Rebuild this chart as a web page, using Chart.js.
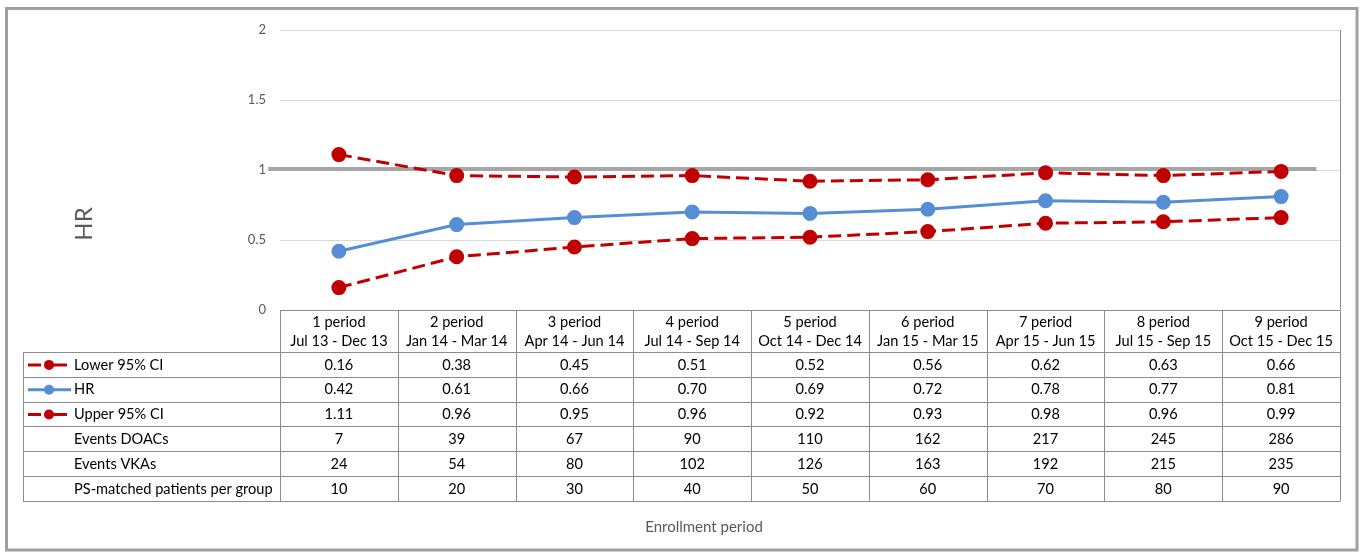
<!DOCTYPE html>
<html>
<head>
<meta charset="utf-8">
<title>HR by enrollment period</title>
<script src="https://cdn.jsdelivr.net/npm/chart.js@4/dist/chart.umd.min.js"></script>
<style>
    html, body { margin: 0; padding: 0; background: #fff; }
    #wrap { position: relative; width: 1361px; height: 552px; }
</style>
</head>
<body>
<div id="wrap"><canvas id="hrChart" width="1361" height="552"></canvas></div>
<script>
// ---- Data ----
const periods = [
    ['1 period', 'Jul 13 - Dec 13'],
    ['2 period', 'Jan 14 - Mar 14'],
    ['3 period', 'Apr 14 - Jun 14'],
    ['4 period', 'Jul 14 - Sep 14'],
    ['5 period', 'Oct 14 - Dec 14'],
    ['6 period', 'Jan 15 - Mar 15'],
    ['7 period', 'Apr 15 - Jun 15'],
    ['8 period', 'Jul 15 - Sep 15'],
    ['9 period', 'Oct 15 - Dec 15']
];
const lowerCI = [0.16, 0.38, 0.45, 0.51, 0.52, 0.56, 0.62, 0.63, 0.66];
const hrValues = [0.42, 0.61, 0.66, 0.70, 0.69, 0.72, 0.78, 0.77, 0.81];
const upperCI = [1.11, 0.96, 0.95, 0.96, 0.92, 0.93, 0.98, 0.96, 0.99];
const eventsDoacs = [7, 39, 67, 90, 110, 162, 217, 245, 286];
const eventsVkas = [24, 54, 80, 102, 126, 163, 192, 215, 235];
const psMatched = [10, 20, 30, 40, 50, 60, 70, 80, 90];
const yTicks = [0, 0.5, 1, 1.5, 2];
const refValue = 1;           // reference line HR = 1
const refSpan = [-0.6, 8.3];  // reference line extent, in category units

const RED = '#C00000';
const BLUE = '#558ED5';
const FONT = 'Lato, "Liberation Sans", sans-serif';

const extraRows = [
    { label: 'Events DOACs', values: eventsDoacs },
    { label: 'Events VKAs', values: eventsVkas },
    { label: 'PS-matched patients per group', values: psMatched }
];

/* ===========================================================
   PLUGINS
=========================================================== */

// outer frame, reference line, right plot border
const framePlugin = {
    id: 'frame',
    beforeDraw(chart) {
        const { ctx } = chart;
        ctx.save();
        ctx.fillStyle = '#fff';
        ctx.fillRect(0, 0, chart.width, chart.height);
        ctx.strokeStyle = '#A0A0A0';
        ctx.lineWidth = 3;
        ctx.strokeRect(6.5, 8.5, chart.width - 4 - 6.5, chart.height - 2 - 8.5);
        ctx.restore();
    },
    beforeDatasetsDraw(chart) {
        const { ctx, chartArea: a, scales: { x, y } } = chart;
        ctx.save();
        // right border of plot area
        ctx.strokeStyle = '#8C8C8C';
        ctx.lineWidth = 1;
        ctx.beginPath();
        ctx.moveTo(a.right + 0.5, a.top);
        ctx.lineTo(a.right + 0.5, a.bottom);
        ctx.stroke();
        // HR = 1 reference line
        const yy = y.getPixelForValue(refValue) - 1;
        ctx.strokeStyle = '#A6A6A6';
        ctx.lineWidth = 4;
        ctx.beginPath();
        ctx.moveTo(x.getPixelForValue(refSpan[0]), yy);
        ctx.lineTo(x.getPixelForValue(refSpan[1]), yy);
        ctx.stroke();
        ctx.restore();
    }
};

// data table under the plot + axis titles
const tablePlugin = {
    id: 'dataTable',
    afterDraw(chart) {
        const { ctx, chartArea: a, scales: { x } } = chart;
        const n = periods.length;
        const colW = (a.right - a.left) / n;
        const top = a.bottom;
        const headH = 42;
        const rowH = 24.8;
        const tableLeft = 23;
        const rows = chart.data.datasets.map(ds => ({
            label: ds.label,
            values: ds.data.map(v => v.toFixed(2)),
            ds
        })).concat(extraRows.map(r => ({ label: r.label, values: r.values.map(String) })));
        const bottom = top + headH + rows.length * rowH;

        ctx.save();
        ctx.strokeStyle = '#8C8C8C';
        ctx.lineWidth = 1;
        const px = v => Math.round(v) + 0.5;

        // horizontal lines
        ctx.beginPath();
        ctx.moveTo(a.left, px(top));
        ctx.lineTo(a.right, px(top));
        for (let r = 0; r <= rows.length; r++) {
            const yy = px(top + headH + r * rowH);
            ctx.moveTo(tableLeft, yy);
            ctx.lineTo(a.right, yy);
        }
        // vertical lines
        ctx.moveTo(px(tableLeft), px(top + headH));
        ctx.lineTo(px(tableLeft), px(bottom));
        for (let i = 0; i <= n; i++) {
            const xx = px(x.getPixelForValue(i) - colW / 2);
            ctx.moveTo(xx, px(top));
            ctx.lineTo(xx, px(bottom));
        }
        ctx.stroke();

        // header text
        ctx.fillStyle = '#000';
        ctx.font = '14.6px ' + FONT;
        ctx.textAlign = 'center';
        ctx.textBaseline = 'middle';
        periods.forEach((p, i) => {
            const cx = x.getPixelForValue(i);
            ctx.fillText(p[0], cx, top + 12);
            ctx.fillText(p[1], cx, top + 31);
        });

        // body rows
        rows.forEach((row, r) => {
            const cy = top + headH + r * rowH + rowH / 2 + 0.5;
            ctx.textAlign = 'center';
            ctx.fillStyle = '#000';
            row.values.forEach((v, i) => ctx.fillText(v, x.getPixelForValue(i), cy));
            ctx.textAlign = 'left';
            ctx.fillText(row.label, 74, cy);
            if (row.ds) {
                const ds = row.ds;
                ctx.save();
                ctx.strokeStyle = ds.borderColor;
                ctx.lineWidth = ds.borderWidth;
                if (ds.borderDash && ds.borderDash.length) {
                    ctx.beginPath();
                    ctx.moveTo(28, cy); ctx.lineTo(41, cy);
                    ctx.moveTo(53, cy); ctx.lineTo(67, cy);
                    ctx.stroke();
                } else {
                    ctx.beginPath();
                    ctx.moveTo(28, cy); ctx.lineTo(71, cy);
                    ctx.stroke();
                }
                ctx.fillStyle = ds.pointBackgroundColor;
                ctx.beginPath();
                ctx.arc(49, cy, 5, 0, Math.PI * 2);
                ctx.fill();
                ctx.restore();
            }
        });

        // axis titles
        ctx.fillStyle = '#595959';
        ctx.textAlign = 'center';
        ctx.font = '15px ' + FONT;
        ctx.fillText('Enrollment period', 704, 527);
        ctx.save();
        ctx.translate(84, 224);
        ctx.rotate(-Math.PI / 2);
        ctx.font = '24px ' + FONT;
        ctx.fillText('HR', 0, 0);
        ctx.restore();
        ctx.restore();
    }
};

/* ===========================================================
   CHART
=========================================================== */

function lineSet(label, data, color, dashed) {
    return {
        label,
        data,
        borderColor: color,
        backgroundColor: color,
        pointBackgroundColor: color,
        pointBorderColor: color,
        borderWidth: 3,
        borderDash: dashed ? [13, 6] : [],
        pointRadius: 6,
        pointHoverRadius: 6,
        tension: 0,
        fill: false
    };
}

new Chart(document.getElementById('hrChart').getContext('2d'), {
    type: 'line',
    data: {
        labels: periods.map(p => p.join(' ')),
        datasets: [
            lineSet('Lower 95% CI', lowerCI, RED, true),
            lineSet('HR', hrValues, BLUE, false),
            lineSet('Upper 95% CI', upperCI, RED, true)
        ]
    },
    options: {
        responsive: false,
        animation: false,
        devicePixelRatio: 1,
        layout: { padding: { left: 0, right: 21, top: 30, bottom: 242 } },
        plugins: {
            legend: { display: false },
            tooltip: { enabled: false }
        },
        scales: {
            x: {
                type: 'category',
                offset: true,
                display: false
            },
            y: {
                min: 0,
                max: 2,
                afterFit: s => { s.width = 280; },
                afterBuildTicks: s => { s.ticks = yTicks.map(v => ({ value: v })); },
                border: { display: false },
                grid: {
                    color: ctx => ctx.tick && ctx.tick.value === 0 ? 'rgba(0,0,0,0)' : '#D9D9D9',
                    lineWidth: 1,
                    drawTicks: false
                },
                ticks: {
                    padding: 14,
                    color: '#595959',
                    font: { family: FONT, size: 13 },
                    callback: v => String(v)
                }
            }
        }
    },
    plugins: [framePlugin, tablePlugin]
});
</script>
</body>
</html>
